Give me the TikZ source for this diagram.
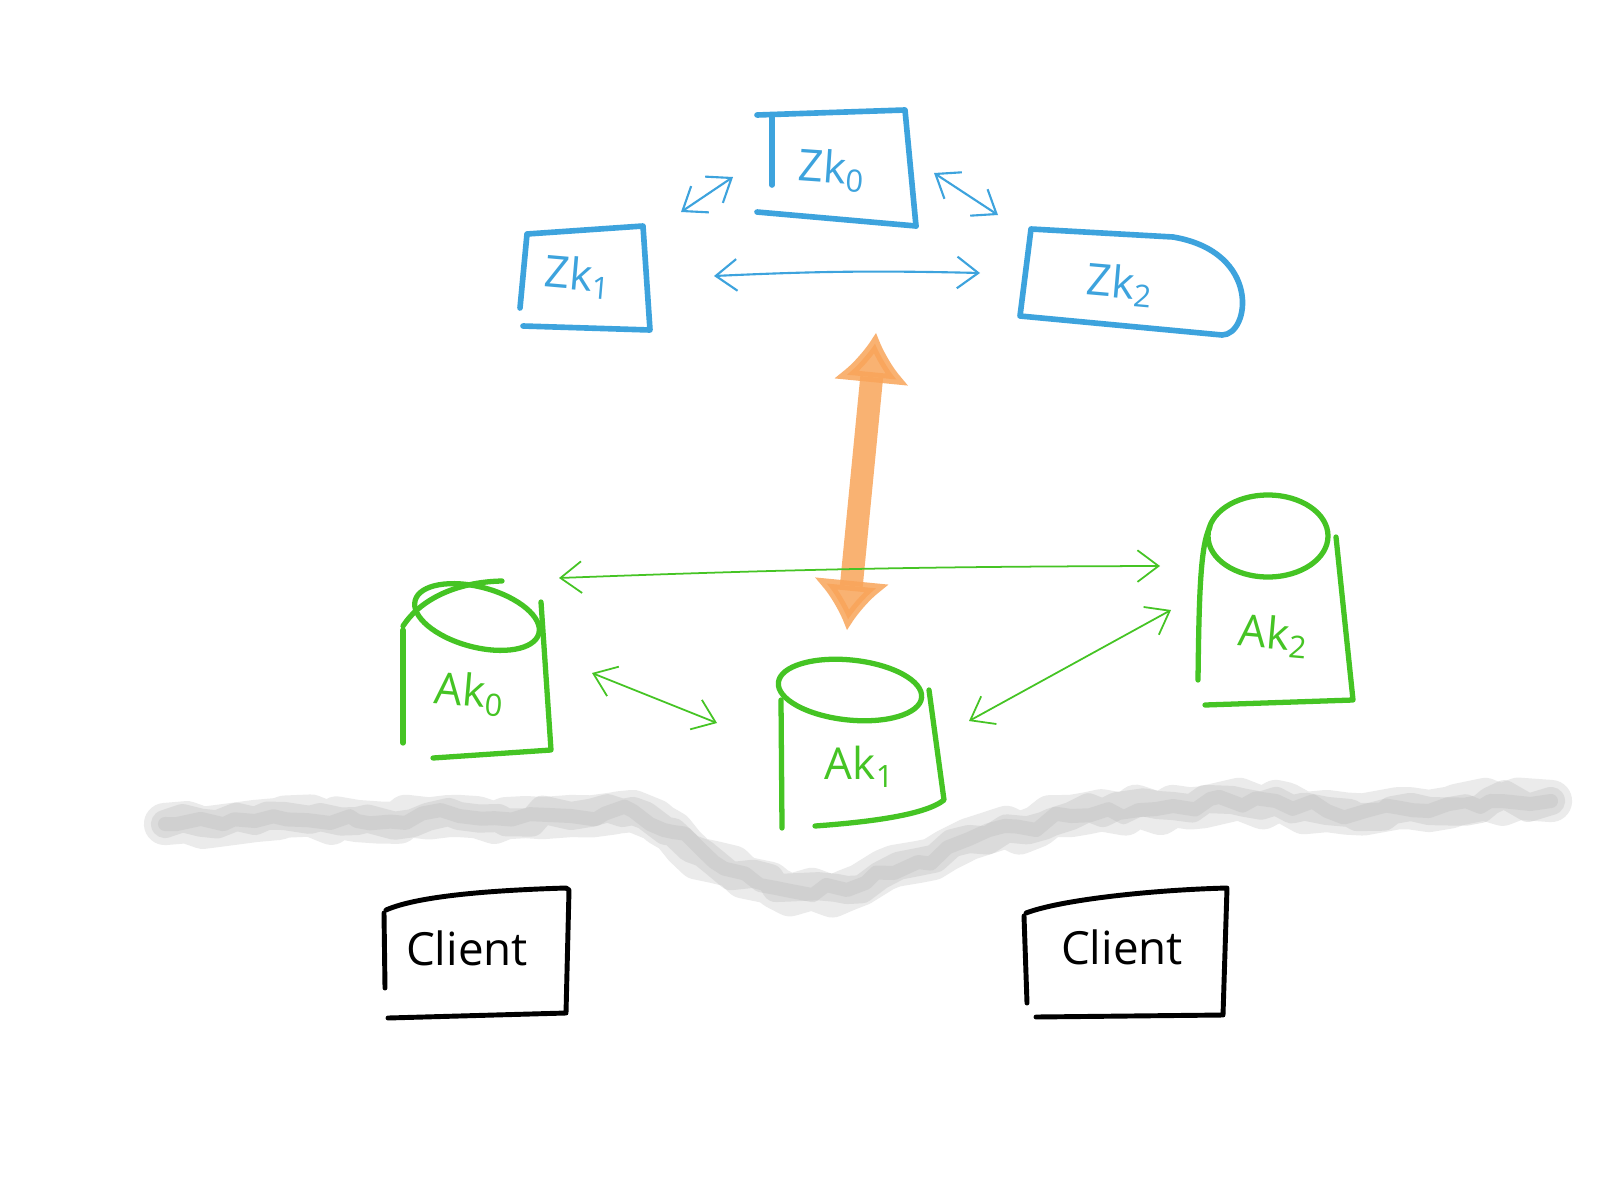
\documentclass[tikz,border=0pt]{standalone}
\usepackage{fontspec}
\setmainfont{Open Sans}
\usetikzlibrary{arrows.meta,decorations.pathmorphing}
\definecolor{zkblue}{HTML}{3DA3DD}
\definecolor{akgreen}{HTML}{45C424}
\definecolor{orng}{HTML}{F9A55A}
\tikzset{
  zkline/.style={draw=zkblue,line width=1.6pt,line cap=round,line join=round},
  akline/.style={draw=akgreen,line width=1.5pt,line cap=round,line join=round},
  clline/.style={draw=black,line width=1.4pt,line cap=round,line join=round},
  zkarrow/.style={draw=zkblue,line width=0.6pt,line cap=round,{Straight Barb[length=6pt,width=9pt]}-{Straight Barb[length=6pt,width=9pt]}},
  akarrow/.style={draw=akgreen,line width=0.5pt,line cap=round,{Straight Barb[length=6pt,width=9pt]}-{Straight Barb[length=6pt,width=9pt]}},
  zklabel/.style={text=zkblue,inner sep=1pt,font=\fontsize{12.5}{13}\selectfont},
  aklabel/.style={text=akgreen,inner sep=1pt,font=\fontsize{12.5}{13}\selectfont},
  cllabel/.style={text=black,inner sep=1pt,font=\fontsize{13}{14}\selectfont},
  tear/.style={line cap=round,line join=round,
    decorate,decoration={random steps,segment length=5pt,amplitude=2pt}}
}
\def\tearpath{(165,824) -- (255,821) -- (357,821) -- (459,816) -- (571,816) -- (633,811) -- (673,832) -- (714,862) -- (776,888) -- (847,890) -- (918,862) -- (969,839) -- (1071,816) -- (1173,806) -- (1276,801) -- (1327,811) -- (1429,811) -- (1490,801) -- (1551,801)}
\begin{document}
\begin{tikzpicture}[x=0.01cm,y=-0.01cm]
\useasboundingbox (0,0) rectangle (1600,1200);
\fill[white] (0,0) rectangle (1600,1200);

% gray torn line
\draw[tear,gray!45,line width=12pt,opacity=0.35] \tearpath;
\draw[tear,gray!50,line width=8pt,opacity=0.35] \tearpath;
\draw[tear,gray!55,line width=4pt,opacity=0.3] \tearpath;

% ZK boxes
\draw[zkline] (772,185) -- (772,115);
\draw[zkline] (757,115) -- (905,110) -- (916,226);
\draw[zkline] (757,212) -- (916,226);
\node[zklabel,rotate=-4] (zk0) at (832,170) {Zk\textsubscript{0}};

\draw[zkline] (520,308) -- (527,234) -- (643,226) -- (650,330) -- (523,326);
\node[zklabel,rotate=-5] (zk1) at (578,277) {Zk\textsubscript{1}};

\draw[zkline] (1020,316) -- (1031,229) -- (1173,237) .. controls (1262,252) and (1250,335) .. (1222,335) -- cycle;
\node[zklabel,rotate=-5] (zk2) at (1120,285) {Zk\textsubscript{2}};

% ZK connectors
\coordinate (a1) at (681,212); \coordinate (a2) at (733,177);
\coordinate (b1) at (934,173); \coordinate (b2) at (998,215);
\coordinate (c1) at (714,276); \coordinate (c2) at (980,273);
\draw[zkarrow] (a1) -- (a2);
\draw[zkarrow] (b1) -- (b2);
\draw[zkarrow] (c1) to[bend left=2] (c2);

% Orange arrow
\coordinate (o1) at (876,333); \coordinate (o2) at (847,630);
\draw[orng,opacity=0.85,line width=6.5pt,{Latex[length=14pt,width=22pt]}-{Latex[length=14pt,width=22pt]}] (o1) -- (o2);

% Ak0 cylinder
\draw[akline] (403,743) -- (403,630);
\draw[akline] (403,626) .. controls (420,600) and (455,582) .. (502,581);
\draw[akline,rotate around={-15:(477,617)}] (477,617) ellipse (64 and 30);
\draw[akline] (541,602) -- (551,750) -- (433,758);
\node[aklabel,rotate=-5] (ak0) at (470,694) {Ak\textsubscript{0}};

% Ak1 cylinder
\draw[akline] (781,700) -- (782,828);
\draw[akline,rotate around={-6:(850,690)}] (850,690) ellipse (72 and 30);
\draw[akline] (929,690) -- (944,800) .. controls (925,815) and (870,822) .. (815,826);
\node[aklabel] (ak1) at (860,767) {Ak\textsubscript{1}};

% Ak2 cylinder
\draw[akline] (1210,527) .. controls (1200,545) and (1199,600) .. (1198,680);
\draw[akline] (1268,536) ellipse (60 and 41);
\draw[akline] (1336,537) -- (1353,700) -- (1205,705);
\node[aklabel,rotate=-5] (ak2) at (1274,636) {Ak\textsubscript{2}};

% Ak connectors
\coordinate (d1) at (559,578); \coordinate (d2) at (1160,566);
\coordinate (e1) at (592,673); \coordinate (e2) at (717,723);
\coordinate (f1) at (969,721); \coordinate (f2) at (1171,610);
\draw[akarrow] (d1) to[bend left=1] (d2);
\draw[akarrow] (e1) -- (e2);
\draw[akarrow] (f1) -- (f2);

% Clients
\draw[clline] (385,988) -- (384,913);
\draw[clline] (386,910) .. controls (420,895) and (500,890) .. (566,888) -- (569,890) -- (566,1013) -- (388,1018);
\node[cllabel] (cl1) at (467,948) {Client};

\draw[clline] (1027,1003) -- (1024,916);
\draw[clline] (1026,913) .. controls (1060,900) and (1150,890) .. (1227,888) -- (1223,1015) -- (1036,1017);
\node[cllabel] (cl2) at (1122,947) {Client};
\end{tikzpicture}
\end{document}
